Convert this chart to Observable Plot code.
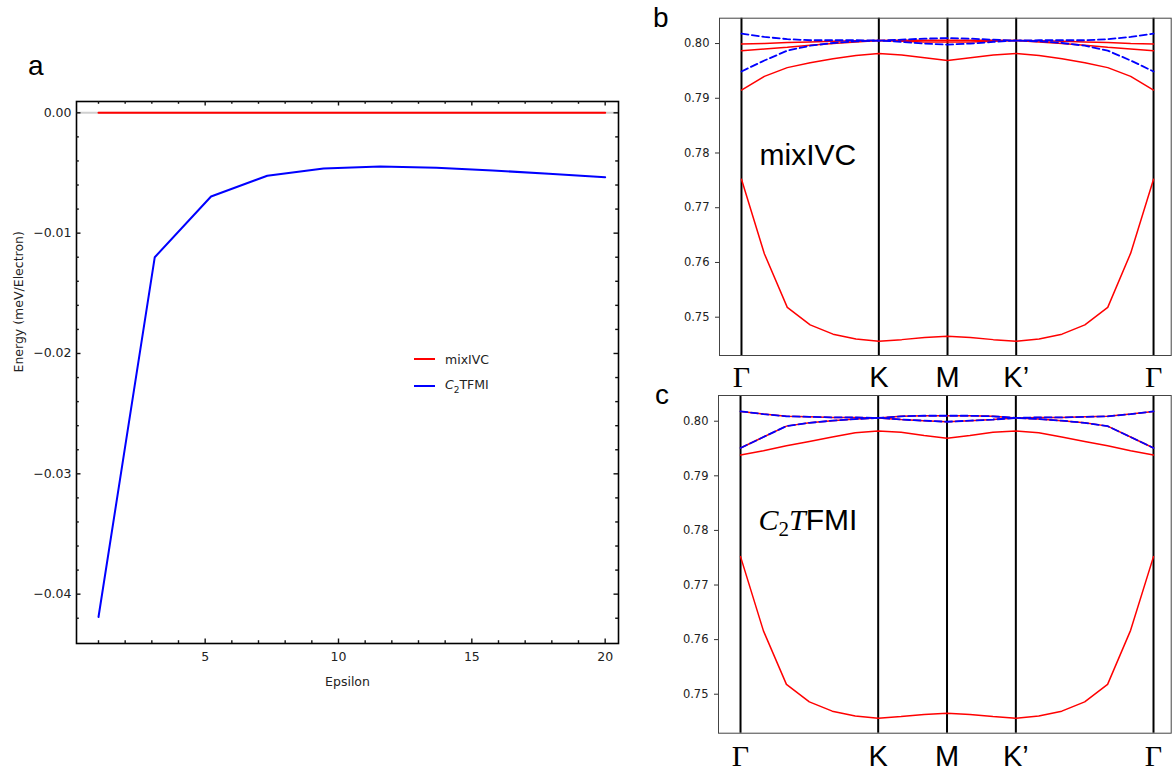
<!DOCTYPE html>
<html><head><meta charset="utf-8">
<script src="https://cdn.jsdelivr.net/npm/d3@7"></script>
<script src="https://cdn.jsdelivr.net/npm/@observablehq/plot@0.6"></script>
<style>
body{margin:0;background:#fff;}
#root{position:relative;width:1172px;height:771px;overflow:hidden;background:#fff;font-family:"Liberation Sans",Arial,sans-serif;}
.panel{position:absolute;}
.plabel{position:absolute;font-size:28px;line-height:28px;color:#000;}
.legend{position:absolute;left:414px;top:345.5px;font-family:"DejaVu Sans",sans-serif;font-size:12.5px;color:#222;}
.legend .row{display:flex;align-items:center;height:27px;}
.legend .sw{width:21px;height:2px;margin-right:10px;}
</style></head><body>
<div id="root">
  <div class="panel" id="pa" style="left:0;top:0;"></div>
  <div class="panel" id="pb" style="left:640px;top:0;"></div>
  <div class="panel" id="pc" style="left:640px;top:388px;"></div>
  <div class="plabel" style="left:28px;top:52px;">a</div>
  <div class="plabel" style="left:653px;top:4px;">b</div>
  <div class="plabel" style="left:655px;top:381px;">c</div>
  <div class="legend">
    <div class="row"><div class="sw" style="background:#ff0000"></div><span>mixIVC</span></div>
    <div class="row"><div class="sw" style="background:#0000ff"></div><span><i>C</i><sub style="font-size:9px">2</sub>TFMI</span></div>
  </div>
</div>
<script>
// ---------- Panel a data ----------
const epsilon = [1, 3.11, 5.22, 7.33, 9.44, 11.56, 13.67, 15.78, 17.89, 20];
const mixIVC = [0, 0, 0, 0, 0, 0, 0, 0, 0, 0];
const c2TFMI = [-0.0419, -0.0120, -0.00695, -0.00523, -0.00463, -0.00446, -0.00457, -0.00479, -0.00507, -0.00535];
const aXMajor = [5, 10, 15, 20];
const aXMinor = [1, 2, 3, 4, 6, 7, 8, 9, 11, 12, 13, 14, 16, 17, 18, 19];
const aYMajor = [0, -0.01, -0.02, -0.03, -0.04];
const aYMinor = [-0.002, -0.004, -0.006, -0.008, -0.012, -0.014, -0.016, -0.018, -0.022, -0.024, -0.026, -0.028, -0.032, -0.034, -0.036, -0.038, -0.042];

// ---------- Panels b, c data ----------
const kPath = [0, 0.333, 0.667, 1, 1.333, 1.667, 2, 2.333, 2.667, 3, 3.333, 3.667, 4, 4.333, 4.667, 5, 5.333, 5.667, 6];
const kTicks = [0, 2, 3, 4, 6];
const kLabels = ["Γ", "K", "M", "K’", "Γ"];
const eTicks = [0.75, 0.76, 0.77, 0.78, 0.79, 0.80];

const lowBand = [0.7752, 0.7616, 0.7518, 0.7486, 0.7469, 0.7460, 0.7456, 0.7459, 0.7463, 0.7465, 0.7463, 0.7459, 0.7456, 0.7460, 0.7469, 0.7486, 0.7518, 0.7617, 0.7752];

// b: mixIVC
const bRed1 = [0.7999, 0.8000, 0.8002, 0.8003, 0.8004, 0.8005, 0.80055, 0.8006, 0.8006, 0.8006, 0.8006, 0.8006, 0.80055, 0.8005, 0.8004, 0.8003, 0.8002, 0.8000, 0.7999];
const bRed2 = [0.7987, 0.7990, 0.7993, 0.7997, 0.8000, 0.8003, 0.80055, 0.8004, 0.8003, 0.8003, 0.8003, 0.8004, 0.80055, 0.8003, 0.8000, 0.7997, 0.7993, 0.7990, 0.7987];
const bRed3 = [0.7915, 0.7940, 0.7956, 0.7965, 0.7972, 0.7978, 0.7982, 0.7979, 0.7974, 0.7969, 0.7974, 0.7979, 0.7982, 0.7978, 0.7972, 0.7965, 0.7956, 0.7940, 0.7915];
const bBlue1 = [0.8018, 0.8012, 0.8008, 0.8006, 0.8006, 0.8006, 0.80055, 0.8007, 0.8009, 0.8010, 0.8009, 0.8007, 0.80055, 0.8006, 0.8006, 0.8006, 0.8008, 0.8012, 0.8018];
const bBlue2 = [0.7949, 0.7969, 0.7987, 0.7996, 0.8001, 0.8004, 0.80055, 0.8003, 0.8000, 0.7998, 0.8000, 0.8003, 0.80055, 0.8004, 0.8001, 0.7996, 0.7987, 0.7969, 0.7949];

// c: C2TFMI (upper two red bands coincide with the blue ones)
const cRed3 = [0.7938, 0.7946, 0.7955, 0.7963, 0.7971, 0.7979, 0.7982, 0.7980, 0.7974, 0.7969, 0.7974, 0.7980, 0.7982, 0.7979, 0.7971, 0.7963, 0.7955, 0.7946, 0.7938];
const cBlue1 = [0.8018, 0.8013, 0.8009, 0.8008, 0.8007, 0.8007, 0.8006, 0.8009, 0.8010, 0.8010, 0.8010, 0.8009, 0.8006, 0.8007, 0.8007, 0.8008, 0.8009, 0.8013, 0.8018];
const cBlue2 = [0.7951, 0.7971, 0.7991, 0.7997, 0.8001, 0.8004, 0.8006, 0.8003, 0.8001, 0.7999, 0.8001, 0.8003, 0.8006, 0.8004, 0.8001, 0.7997, 0.7991, 0.7971, 0.7951];

// ---------- Panel a ----------
const aRows = [
  ...epsilon.map((x, i) => ({eps: x, e: mixIVC[i], s: "mixIVC"})),
  ...epsilon.map((x, i) => ({eps: x, e: c2TFMI[i], s: "C2TFMI"}))
];
const aIn = 542; // inner width & height
const tickStyle = {stroke: "#111", strokeWidth: 1.4};
const aPlot = Plot.plot({
  width: 640, height: 700,
  marginLeft: 76, marginTop: 101, marginRight: 22, marginBottom: 57,
  style: {fontFamily: "DejaVu Sans, sans-serif", fontSize: "12.5px", color: "#222", background: "transparent", overflow: "visible"},
  x: {domain: [0.175, 20.5]},
  y: {domain: [-0.0441, 0.00094]},
  marks: [
    Plot.ruleY([0], {stroke: "#d0d0d0", strokeWidth: 2}),
    Plot.line(aRows.filter(d => d.s === "mixIVC"), {x: "eps", y: "e", stroke: "#ff0000", strokeWidth: 2}),
    Plot.line(aRows.filter(d => d.s === "C2TFMI"), {x: "eps", y: "e", stroke: "#0000ff", strokeWidth: 2}),
    Plot.frame({stroke: "#000", strokeWidth: 1.6}),
    Plot.tickX(aXMajor, {x: d => d, insetTop: aIn - 4.5, ...tickStyle}),
    Plot.tickX(aXMajor, {x: d => d, insetBottom: aIn - 4.5, ...tickStyle}),
    Plot.tickX(aXMinor, {x: d => d, insetTop: aIn - 2.8, ...tickStyle}),
    Plot.tickX(aXMinor, {x: d => d, insetBottom: aIn - 2.8, ...tickStyle}),
    Plot.tickY(aYMajor, {y: d => d, insetRight: aIn - 4.5, ...tickStyle}),
    Plot.tickY(aYMajor, {y: d => d, insetLeft: aIn - 4.5, ...tickStyle}),
    Plot.tickY(aYMinor, {y: d => d, insetRight: aIn - 2.8, ...tickStyle}),
    Plot.tickY(aYMinor, {y: d => d, insetLeft: aIn - 2.8, ...tickStyle}),
    Plot.axisX({ticks: aXMajor, tickSize: 0, tickPadding: 9, label: null}),
    Plot.axisY({ticks: aYMajor, tickSize: 0, tickPadding: 5, tickFormat: d3.format(".2f"), label: null}),
    Plot.text(["Epsilon"], {text: d => d, frameAnchor: "bottom", dy: 42, fontSize: 12.5}),
    Plot.text(["Energy (meV/Electron)"], {text: d => d, frameAnchor: "left", dx: -58, rotate: -90, fontSize: 12.5})
  ]
});
document.getElementById("pa").appendChild(aPlot);

// ---------- Panels b, c helper ----------
function bandRows(name, values) {
  return values.map((v, i) => ({k: kPath[i], e: v, band: name}));
}
const tickRows = kTicks.map((k, i) => ({k, label: kLabels[i]}));

function bandPlot({height, marginTop, marginBottom, marginLeft, yDomain, red, blue, labelDy, annotation, annotationDy}) {
  return Plot.plot({
    width: 532, height, marginTop, marginBottom, marginLeft, marginRight: 1.3,
    style: {fontFamily: "DejaVu Sans, sans-serif", fontSize: "11.5px", color: "#222", background: "transparent", overflow: "visible"},
    x: {domain: [-0.32, 6.257], axis: null},
    y: {domain: yDomain},
    marks: [
      Plot.ruleX(kTicks, {x: d => d, stroke: "#000", strokeWidth: 2}),
      Plot.line(red, {x: "k", y: "e", z: "band", stroke: "#ff0000", strokeWidth: 1.5}),
      Plot.line(blue, {x: "k", y: "e", z: "band", stroke: "#0000ff", strokeWidth: 1.8, strokeDasharray: "7,3.5"}),
      Plot.frame({stroke: "#444", strokeWidth: 1}),
      Plot.axisY({ticks: eTicks, tickSize: 4, tickPadding: 6, tickFormat: d3.format(".2f"), label: null, stroke: "#333"}),
      Plot.text(tickRows.filter(d => d.label === "Γ"), {x: "k", text: "label", frameAnchor: "bottom", dy: labelDy, fontSize: 30, fontFamily: "Liberation Serif, serif", fill: "#000"}),
      Plot.text(tickRows.filter(d => d.label !== "Γ"), {x: "k", text: "label", frameAnchor: "bottom", dy: labelDy, fontSize: 29, fontFamily: "Liberation Sans, Arial, sans-serif", fill: "#000"}),
      Plot.text([annotation], {text: d => d, frameAnchor: "top-left", dx: 40, dy: annotationDy, lineAnchor: "bottom", textAnchor: "start", fontSize: 30, fontFamily: "Liberation Sans, Arial, sans-serif", fill: "#000"})
    ]
  });
}

// ---------- Panel b ----------
const bRed = [...bandRows("r1", bRed1), ...bandRows("r2", bRed2), ...bandRows("r3", bRed3), ...bandRows("low", lowBand)];
const bBlue = [...bandRows("b1", bBlue1), ...bandRows("b2", bBlue2)];
const bPlot = bandPlot({height: 388, marginTop: 17.7, marginBottom: 33, marginLeft: 79, yDomain: [0.7430, 0.80463], red: bRed, blue: bBlue, labelDy: 31, annotation: "mixIVC", annotationDy: 147});
document.getElementById("pb").appendChild(bPlot);

// ---------- Panel c ----------
const cRed = [...bandRows("r1", cBlue1), ...bandRows("r2", cBlue2), ...bandRows("r3", cRed3), ...bandRows("low", lowBand)];
const cBlue = [...bandRows("b1", cBlue1), ...bandRows("b2", cBlue2)];
const cPlot = bandPlot({height: 383, marginTop: 7, marginBottom: 38.3, marginLeft: 78, yDomain: [0.74286, 0.80471], red: cRed, blue: cBlue, labelDy: 33, annotation: "C2TFMI", annotationDy: 134});
document.getElementById("pc").appendChild(cPlot);

// Typeset C2TFMI with italic math letters and a subscript
d3.select(cPlot).selectAll("text").filter(function() { return this.textContent === "C2TFMI"; }).each(function() {
  const t = d3.select(this);
  t.text(null);
  t.append("tspan").attr("font-family", "Liberation Serif, serif").attr("font-style", "italic").text("C");
  t.append("tspan").attr("font-family", "Liberation Serif, serif").attr("font-size", "21px").attr("dy", "6").text("2");
  t.append("tspan").attr("font-family", "Liberation Serif, serif").attr("font-style", "italic").attr("dy", "-6").text("T");
  t.append("tspan").text("FMI");
});
</script>
</body></html>
